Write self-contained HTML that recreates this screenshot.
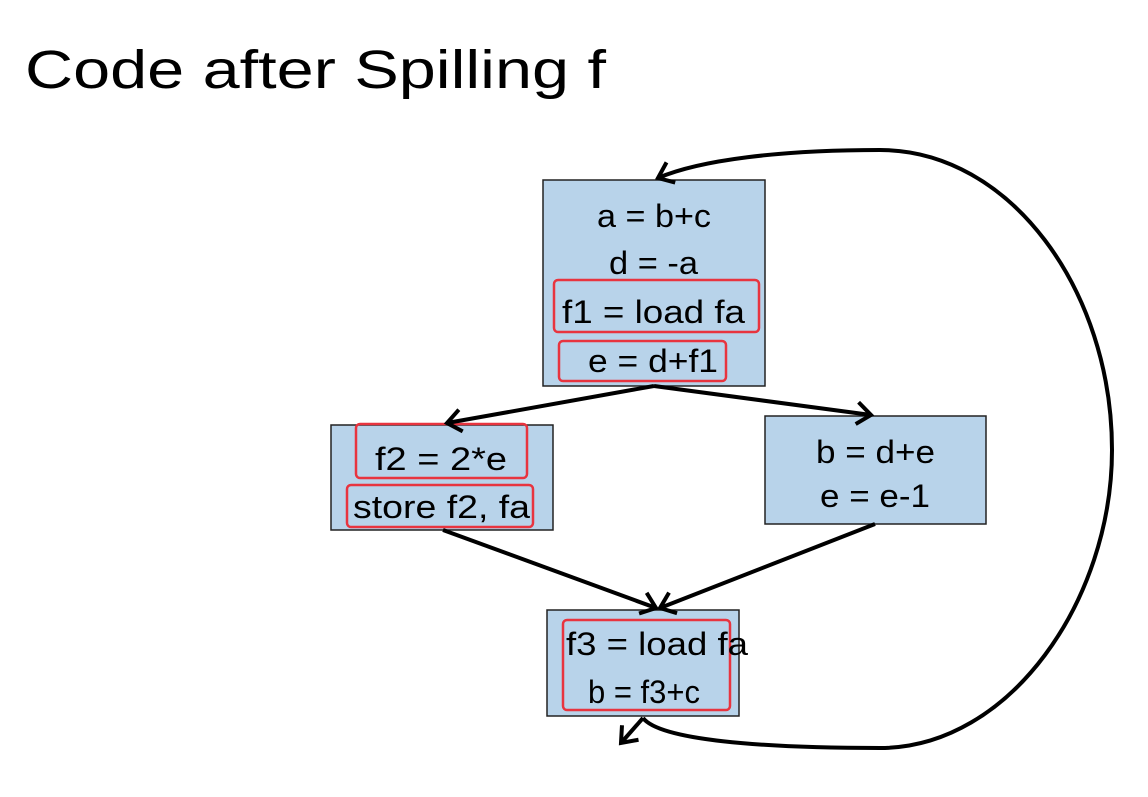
<!DOCTYPE html>
<html><head><style>
body{margin:0;background:#fff;}
svg text{font-family:"Liberation Sans",sans-serif;}
</style></head><body>
<svg width="1148" height="792" viewBox="0 0 1148 792" xmlns="http://www.w3.org/2000/svg">
<defs>
<marker id="ah" markerWidth="24" markerHeight="26" refX="16" refY="13" orient="auto" markerUnits="userSpaceOnUse">
<path d="M2,2 L16,13 L2,24" fill="none" stroke="#000" stroke-width="4"/>
</marker>
</defs>
<text x="25" y="88" font-size="54" fill="#000" textLength="581" lengthAdjust="spacingAndGlyphs">Code after Spilling f</text>
<g fill="#b8d3ea" stroke="#222" stroke-width="1.5">
<rect x="543" y="180" width="222" height="206"/>
<rect x="331" y="425" width="222" height="105"/>
<rect x="765" y="416" width="221" height="108"/>
<rect x="547" y="610" width="192" height="106"/>
</g>
<g fill="none" stroke="#e8343f" stroke-width="2.5">
<rect x="554" y="280" width="205" height="52" rx="4"/>
<rect x="559" y="341" width="167" height="40" rx="4"/>
<rect x="356" y="424" width="171" height="54" rx="4"/>
<rect x="347" y="485" width="186" height="42" rx="4"/>
<rect x="563" y="620" width="167" height="90" rx="4"/>
</g>
<g font-size="32" fill="#000">
<text x="597" y="227" textLength="114" lengthAdjust="spacingAndGlyphs">a = b+c</text>
<text x="609" y="274" textLength="89" lengthAdjust="spacingAndGlyphs">d = -a</text>
<text x="562" y="323" textLength="183" lengthAdjust="spacingAndGlyphs">f1 = load fa</text>
<text x="588" y="372" textLength="130" lengthAdjust="spacingAndGlyphs">e = d+f1</text>
<text x="375" y="470" textLength="132" lengthAdjust="spacingAndGlyphs">f2 = 2*e</text>
<text x="353" y="518" textLength="177" lengthAdjust="spacingAndGlyphs">store f2, fa</text>
<text x="816" y="463" textLength="119" lengthAdjust="spacingAndGlyphs">b = d+e</text>
<text x="820" y="507" textLength="110" lengthAdjust="spacingAndGlyphs">e = e-1</text>
<text x="566" y="655" textLength="182" lengthAdjust="spacingAndGlyphs">f3 = load fa</text>
<text x="588" y="703" textLength="112" lengthAdjust="spacingAndGlyphs">b = f3+c</text>
</g>
<g fill="none" stroke="#000" stroke-width="4">
<line x1="654" y1="386" x2="447" y2="423" marker-end="url(#ah)"/>
<line x1="654" y1="386" x2="871" y2="415" marker-end="url(#ah)"/>
<line x1="443" y1="530" x2="656" y2="608" marker-end="url(#ah)"/>
<line x1="875" y1="524" x2="660" y2="608" marker-end="url(#ah)"/>
<line x1="643" y1="718" x2="621" y2="743" marker-end="url(#ah)"/>
<path d="M643,718 C660,740 760,748 880,748 C1010,748 1112,600 1112,450 C1112,290 1010,150 880,150 C780,150 700,160 658,178" marker-end="url(#ah)"/>
</g>
</svg>
</body></html>
